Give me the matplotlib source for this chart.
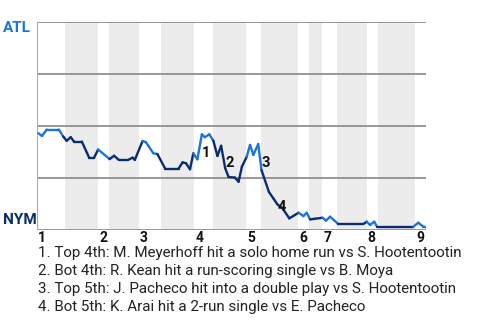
import matplotlib
matplotlib.use("Agg")
import matplotlib.pyplot as plt
from matplotlib.transforms import blended_transform_factory

plt.rcParams['font.family'] = ['Roboto', 'DejaVu Sans']

# game progress (plate appearances) and ATL win probability (%)
progress = [0.4, 1.35, 2.6, 5.9, 7.1, 8.0, 9.1, 10.0, 12.1, 14.1, 15.4, 16.5,
            19.6, 20.8, 22.1, 24.6, 25.8, 26.4, 28.5, 29.4, 31.4, 32.5, 34.6,
            38.2, 39.3, 40.2, 41.3, 42.2, 43.3, 44.5, 45.3, 46.5, 47.6, 48.7,
            49.7, 50.8, 51.7, 53.4, 54.4, 55.3, 56.6, 57.5, 58.4, 59.7, 60.6,
            62.6, 63.8, 64.9, 66.2, 68.1, 69.6, 70.6, 71.9, 72.8, 73.7, 75.0,
            77.1, 78.0, 79.1, 81.3, 88.1, 89.0, 89.9, 91.0, 91.8, 101.6, 102.9,
            104.3, 105.0]
atl_wp = [46.5, 45.2, 48.3, 48.3, 44.9, 42.9, 44.6, 42.5, 42.5, 34.7, 34.7, 38.7,
          34.1, 35.7, 33.7, 33.7, 34.8, 33.7, 42.8, 42.2, 36.9, 36.5, 29.5,
          29.5, 32.5, 32.1, 29.2, 36.9, 34.0, 46.0, 44.6, 46.0, 42.9, 35.6,
          40.5, 29.7, 25.5, 25.2, 23.2, 30.4, 35.2, 40.9, 36.1, 41.3, 28.8,
          18.3, 15.2, 12.3, 10.6, 5.6, 7.2, 8.3, 6.7, 8.3, 5.1, 5.4,
          5.9, 4.5, 6.4, 2.9, 2.9, 4.0, 2.4, 4.0, 1.6, 1.6, 3.5,
          1.6, 1.6]

# half-inning boundaries (top halves = ATL batting, bottom halves = NYM batting)
half_edges = [0, 7.5, 16.5, 19.5, 27.5, 33.5, 42.5, 47.5, 56.5, 60.5, 70.5,
              73.5, 77, 81, 89, 92, 102, 105]
inning_labels = ['1', '2', '3', '4', '5', '6', '7', '8', '9']

# key plays
play_x = [45.5, 52.1, 61.8, 66.0]
play_y = [36.9, 32.0, 32.4, 10.9]
play_tags = ['1', '2', '3', '4']
play_notes = [
    "1. Top 4th: M. Meyerhoff hit a solo home run vs S. Hootentootin",
    "2. Bot 4th: R. Kean hit a run-scoring single vs B. Moya",
    "3. Top 5th: J. Pacheco hit into a double play vs S. Hootentootin",
    "4. Bot 5th: K. Arai hit a 2-run single vs E. Pacheco",
]

ATL_BLUE = '#1a73e0'
NYM_NAVY = '#0a2d6e'

fig = plt.figure(figsize=(4.8, 3.2), dpi=100)
ax = fig.add_axes([37 / 480, 1 - 230 / 320, 389 / 480, 208 / 320])
ax.set_xlim(0, 105)
ax.set_ylim(0, 100)
ax.axis('off')

# shaded bottom halves
for i in range(1, len(half_edges) - 1, 2):
    ax.axvspan(half_edges[i], half_edges[i + 1], color='#ececec', lw=0, zorder=0)

for y in [0, 25, 50, 75, 100]:
    ax.axhline(y, color='#888888', lw=1.2, zorder=1)
ax.axvline(0, color='#aaaaaa', lw=0.8, zorder=1)


def is_bottom_half(x):
    for i in range(len(half_edges) - 1):
        if half_edges[i] <= x < half_edges[i + 1]:
            return i % 2 == 1
    return False


for i in range(len(progress) - 1):
    mid = (progress[i] + progress[i + 1]) / 2
    col = NYM_NAVY if is_bottom_half(mid) else ATL_BLUE
    ax.plot(progress[i:i + 2], atl_wp[i:i + 2], color=col, lw=1.7,
            solid_capstyle='round', zorder=3)

for x, y, t in zip(play_x, play_y, play_tags):
    ax.text(x, y, t, fontsize=10.5, fontweight='bold', color='#111111',
            ha='center', va='center', zorder=4)

trans = blended_transform_factory(ax.transData, ax.transAxes)
for k, lab in enumerate(inning_labels):
    ax.text(half_edges[2 * k] + 0.3, -0.003, lab, transform=trans, fontsize=10,
            fontweight='bold', color='#111111', ha='left', va='top')

fig.text(3 / 480, 1 - 28 / 320, 'ATL', color=ATL_BLUE, fontsize=11,
         fontweight='bold', ha='left', va='center')
fig.text(3 / 480, 1 - 220 / 320, 'NYM', color=NYM_NAVY, fontsize=11,
         fontweight='bold', ha='left', va='center')

for k, note in enumerate(play_notes):
    fig.text(38 / 480, 1 - (253.5 + k * 18) / 320, note, fontsize=10.9,
             color='#222222', ha='left', va='center')

fig.savefig('out.png', dpi=100)
